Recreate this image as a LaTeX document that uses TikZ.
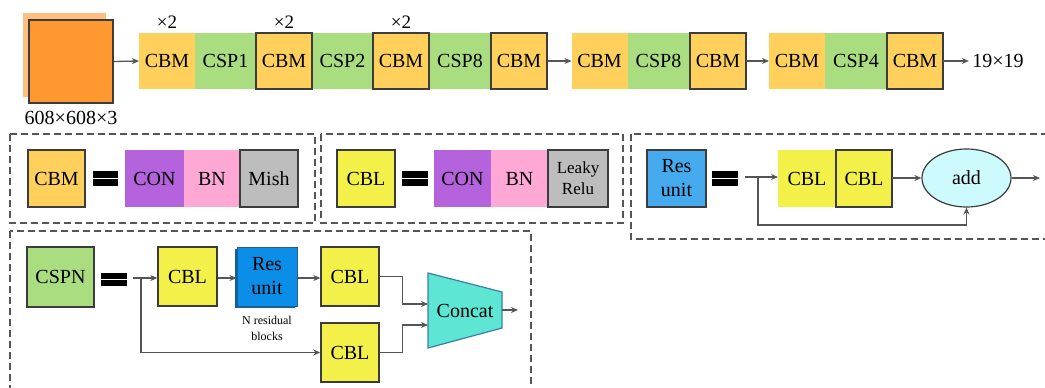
\documentclass[tikz,border=0pt]{standalone}
\usepackage{fontspec}
\setmainfont{Liberation Serif}
\newfontfamily\tms{Liberation Serif}
\usetikzlibrary{arrows.meta,shapes.geometric}
\definecolor{cbmc}{HTML}{FFD05C}
\definecolor{cspc}{HTML}{A9DD80}
\definecolor{cblc}{HTML}{F4F04A}
\definecolor{conc}{HTML}{B463DC}
\definecolor{bnc}{HTML}{FFA8D6}
\definecolor{greyc}{HTML}{BDBDBD}
\definecolor{resc}{HTML}{45AAEE}
\definecolor{resd}{HTML}{0B8EE8}
\definecolor{addc}{HTML}{CDFAFD}
\definecolor{catc}{HTML}{5DE6D3}
\definecolor{catb}{HTML}{3A7FA8}
\definecolor{orf}{HTML}{FF9830}
\definecolor{orb}{HTML}{FFBE80}
\definecolor{edge}{HTML}{3C3C3C}
\definecolor{linec}{HTML}{555555}
\begin{document}
\begin{tikzpicture}[x=1pt,y=-1pt,
  every node/.style={font=\tms\fontsize{20}{22}\selectfont, text=black},
  blk/.style={minimum width=#1, minimum height=56pt, inner sep=0pt, outer sep=0pt},
  leg/.style={minimum width=#1, minimum height=57pt, inner sep=0pt, outer sep=0pt},
  bord/.style={draw=edge, line width=1.4pt},
  arr/.style={draw=linec, line width=1.3pt, -{Stealth[length=7pt,width=6pt]}},
  dbox/.style={draw=linec, line width=1.3pt, dash pattern=on 7pt off 4pt}]
\useasboundingbox (0,0) rectangle (1045,388);
\clip (0,0) rectangle (1045,388);

% input image
\fill[orb] (23,13) rectangle (106,97);
\node[fill=orf, bord, minimum width=84pt, minimum height=83pt, inner sep=0pt] (img) at (71,61.5) {};
\node (insz) at (71,118) {608×608×3};

% top row - unbordered first
\node[blk=56pt, fill=cbmc] (b1) at (167,61) {CBM};
\node[blk=61pt, fill=cspc] (b2) at (225.5,61) {CSP1};
\node[blk=61pt, fill=cspc] (b4) at (342.5,61) {CSP2};
\node[blk=62pt, fill=cspc] (b6) at (460,61) {CSP8};
\node[blk=56pt, fill=cbmc] (c1) at (599.5,61) {CBM};
\node[blk=62pt, fill=cspc] (c2) at (658.5,61) {CSP8};
\node[blk=56pt, fill=cbmc] (d1) at (797,61) {CBM};
\node[blk=62pt, fill=cspc] (d2) at (856,61) {CSP4};
% bordered
\node[blk=56pt, fill=cbmc, bord] (b3) at (284,61) {CBM};
\node[blk=56pt, fill=cbmc, bord] (b5) at (401,61) {CBM};
\node[blk=56pt, fill=cbmc, bord] (b7) at (519,61) {CBM};
\node[blk=56pt, fill=cbmc, bord] (c3) at (718,61) {CBM};
\node[blk=56pt, fill=cbmc, bord] (d3) at (915,61) {CBM};

\node[font=\tms\fontsize{19}{21}\selectfont] (x1) at (167,22) {×2};
\node[font=\tms\fontsize{19}{21}\selectfont] (x2) at (284,22) {×2};
\node[font=\tms\fontsize{19}{21}\selectfont] (x3) at (401,22) {×2};

\node (outsz) at (998,61) {19×19};

\draw[arr] (img.east) -- (b1.west);
\draw[arr] (b7.east) -- (c1.west);
\draw[arr] (c3.east) -- (d1.west);
\draw[arr] (d3.east) -- (outsz.west);

% dashed boxes
\draw[dbox] (10,134) rectangle (315,223);
\draw[dbox] (321,134) rectangle (623,223);
\draw[dbox] (631,134) rectangle (1070,239);
\draw[dbox] (10,231) rectangle (531,410);

% CBM legend
\node[leg=57pt, fill=cbmc, bord] (lcbm) at (56.5,178.5) {CBM};
\fill[black] (93,171) rectangle (118,178);
\fill[black] (93,179) rectangle (118,186);
\node[leg=59pt, fill=conc] (lcon1) at (154.5,178.5) {CON};
\node[leg=56pt, fill=bnc] (lbn1) at (212,178.5) {BN};
\node[leg=58pt, fill=greyc, bord] (lmish) at (269,178.5) {Mish};

% CBL legend
\node[leg=58pt, fill=cblc, bord] (lcbl) at (366,178.5) {CBL};
\fill[black] (402,171) rectangle (428,178);
\fill[black] (402,179) rectangle (428,186);
\node[leg=57pt, fill=conc] (lcon2) at (462.5,178.5) {CON};
\node[leg=57pt, fill=bnc] (lbn2) at (519.5,178.5) {BN};
\node[leg=60pt, fill=greyc, bord, align=center, font=\tms\fontsize{17}{21}\selectfont] (lleaky) at (578,178.5) {Leaky\\Relu};

% Res unit legend
\node[leg=59pt, fill=resc, bord, align=center, font=\tms\fontsize{20}{24}\selectfont] (lres) at (676.5,178.5) {Res\\unit};
\fill[black] (712,171) rectangle (738,178);
\fill[black] (712,179) rectangle (738,186);
\coordinate (rs) at (745,177);
\coordinate (rk1) at (758,177);
\coordinate (rk2) at (758,225);
\node[leg=58pt, fill=cblc] (rc1) at (807,178.5) {CBL};
\node[leg=56pt, fill=cblc, bord] (rc2) at (864,178.5) {CBL};
\node[draw=edge, line width=1.2pt, fill=addc, ellipse, minimum width=89pt, minimum height=58pt, inner sep=0pt] (add) at (966.5,178) {add};
\coordinate (rout) at (1040,178);
\draw[arr] (rs) -- (rc1.west |- rs);
\draw[arr] (rc2.east |- add) -- (add.west);
\draw[arr] (add.east) -- (rout);
\draw[arr] (rk1) -- (rk2) -| (add.south);

% CSPN legend
\node[minimum width=67pt, minimum height=60pt, inner sep=0pt, fill=cspc, bord] (cspn) at (60.5,277) {CSPN};
\fill[black] (101,273) rectangle (127,279);
\fill[black] (101,280) rectangle (127,286);
\coordinate (cs) at (133,278);
\coordinate (cb) at (141,278);
\node[minimum width=59pt, minimum height=59pt, inner sep=0pt, fill=cblc, bord] (cbl1) at (187.5,276.5) {CBL};
\fill[resd!70!black] (235,249) rectangle (295,308);
\node[minimum width=60pt, minimum height=59pt, inner sep=0pt, fill=resd, draw=edge!60!resd, line width=1pt, align=center, font=\tms\fontsize{20}{24}\selectfont] (res2) at (267,276.5) {Res\\unit};
\node[align=center, font=\tms\fontsize{12}{16}\selectfont] (nres) at (267,328) {N residual\\blocks};
\node[minimum width=58pt, minimum height=59pt, inner sep=0pt, fill=cblc, bord] (cbl2) at (350,276.5) {CBL};
\node[minimum width=58pt, minimum height=59pt, inner sep=0pt, fill=cblc, bord] (cbl3) at (350,352.5) {CBL};
\draw[draw=catb, fill=catc, line width=1.2pt] (428,273) -- (502,292) -- (502,328) -- (428,348) -- cycle;
\node (concat) at (465,311) {Concat};
\coordinate (ci1) at (428,304);
\coordinate (ci2) at (428,325);
\coordinate (co1) at (502,310);
\coordinate (co2) at (518,310);
\draw[arr] (cs) -- (cbl1.west |- cs);
\draw[arr] (cbl1.east |- cs) -- (res2.west |- cs);
\draw[arr] (res2.east |- cs) -- (cbl2.west |- cs);
\draw[arr] (cb) |- (cbl3.west);
\draw[arr] (cbl2.east) -- ++(23,0) |- (ci1);
\draw[arr] (cbl3.east) -- ++(23,0) |- (ci2);
\draw[arr] (co1) -- (co2);
\end{tikzpicture}
\end{document}
